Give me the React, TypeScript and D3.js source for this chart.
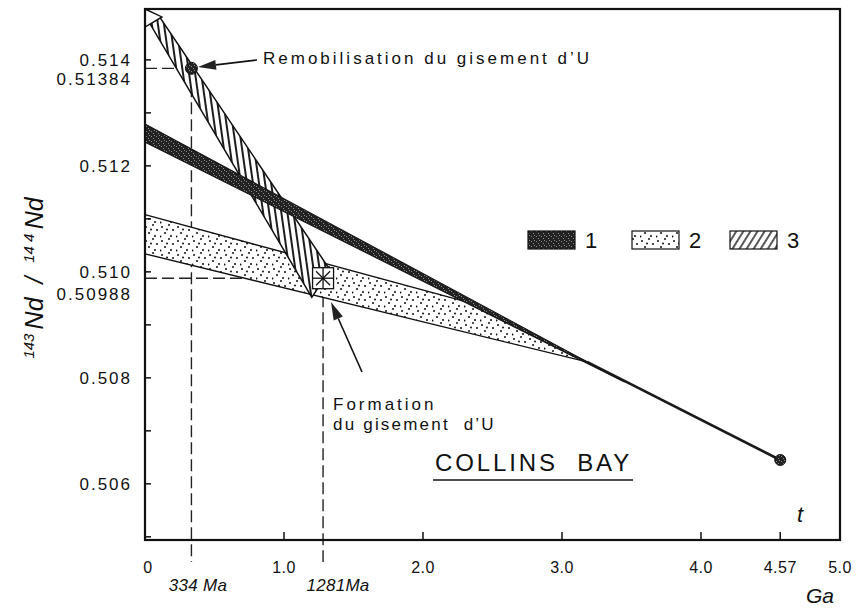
import React, { useRef, useEffect } from 'react';
import * as d3 from 'd3';

// time axis (Ga) and 143Nd/144Nd values
const xTickValues = [1.0, 2.0, 3.0, 4.0, 4.57];
const xLabelValues = [0, 1.0, 2.0, 3.0, 4.0, 4.57, 5.0];
const xLabelTexts = ['0', '1.0', '2.0', '3.0', '4.0', '4.57', '5.0'];
const yTickValues = [0.505, 0.506, 0.507, 0.508, 0.509, 0.51, 0.511, 0.512, 0.513, 0.514];
const yLabelValues = [0.514, 0.512, 0.51, 0.508, 0.506];
const yLabelTexts = ['0.514', '0.512', '0.510', '0.508', '0.506'];

// bands: [t (Ga), 143Nd/144Nd]
const band1: [number, number][] = [[0, 0.51279], [3.45, 0.50792], [0, 0.51245]];
const band2: [number, number][] = [[0, 0.51108], [2.32, 0.50943], [3.18, 0.5083], [0, 0.51034]];
const band3: [number, number][] = [[0.036, 0.51468], [0.108, 0.5148], [1.33, 0.51004], [1.2, 0.50952]];
const band3Head: [number, number][] = [[0, 0.51496], [0.122, 0.51481], [0, 0.51462]];
const churLine: [number, number][] = [[3.18, 0.5083], [4.57, 0.50645]];

const remob = { t: 0.334, r: 0.51384, label: '0.51384', age: '334 Ma' };
const formation = { t: 1.281, r: 0.50988, label: '0.50988', age: '1281Ma' };
const chur = { t: 4.57, r: 0.50645 };

const legendItems = ['1', '2', '3'];

const W = 865;
const H = 610;
const FONT = '"Liberation Sans", Arial, Helvetica, sans-serif';

const CollinsBay: React.FC = () => {
  const svgRef = useRef<SVGSVGElement | null>(null);

  useEffect(() => {
    if (!svgRef.current) return;
    const svg = d3.select(svgRef.current);
    svg.selectAll('*').remove();

    const left = 145, right = 840, top = 9, bottom = 540;
    const x = d3.scaleLinear().domain([0, 5]).range([left, right]);
    const y = d3.scaleLinear().domain([0.50494, 0.51496]).range([bottom, top]);

    const defs = svg.append('defs');

    // dark stipple
    const pDark = defs.append('pattern').attr('id', 'dark').attr('patternUnits', 'userSpaceOnUse')
      .attr('width', 5).attr('height', 5);
    pDark.append('rect').attr('width', 5).attr('height', 5).attr('fill', '#222');
    [[1, 1], [3, 3], [4, 0]].forEach(([a, b]) =>
      pDark.append('rect').attr('x', a).attr('y', b).attr('width', 1).attr('height', 1).attr('fill', '#8c8c8c'));

    // dots
    const pDots = defs.append('pattern').attr('id', 'dots').attr('patternUnits', 'userSpaceOnUse')
      .attr('width', 16).attr('height', 14);
    pDots.append('rect').attr('width', 16).attr('height', 14).attr('fill', '#fff');
    [[2, 3], [9, 1], [13, 6], [5, 9], [11, 12], [0.5, 12.5], [7, 5.5]].forEach(([a, b]) =>
      pDots.append('circle').attr('cx', a).attr('cy', b).attr('r', 1).attr('fill', '#111'));

    // hatch for the band (\) and the legend (/)
    const hatch = (id: string, angle: number, step: number, sw: number) => {
      const p = defs.append('pattern').attr('id', id).attr('patternUnits', 'userSpaceOnUse')
        .attr('width', step).attr('height', 10).attr('patternTransform', `rotate(${angle})`);
      p.append('rect').attr('width', step).attr('height', 10).attr('fill', '#fff');
      p.append('line').attr('x1', step / 2).attr('x2', step / 2).attr('y1', 0).attr('y2', 10)
        .attr('stroke', '#111').attr('stroke-width', sw);
    };
    hatch('hatchBand', -8, 6, 1.9);
    hatch('hatchLeg', 32, 6, 1.4);

    const line = d3.line<[number, number]>().x(d => x(d[0])).y(d => y(d[1]));
    const poly = (pts: [number, number][]) => line(pts)! + 'Z';

    // dashed guides
    const dash = (x1: number, y1: number, x2: number, y2: number) =>
      svg.append('line').attr('x1', x1).attr('y1', y1).attr('x2', x2).attr('y2', y2)
        .attr('stroke', '#222').attr('stroke-width', 1.4).attr('stroke-dasharray', '12,5');
    [remob, formation].forEach(p => {
      dash(left, y(p.r), x(p.t), y(p.r));
      dash(x(p.t), y(p.r), x(p.t), 562);
    });

    // band 2 (dotted)
    svg.append('path').attr('d', poly(band2)).attr('fill', 'url(#dots)')
      .attr('stroke', '#111').attr('stroke-width', 1.4).attr('stroke-linejoin', 'round');

    // band 3 (hatched) + open arrow head
    svg.append('path').attr('d', poly(band3)).attr('fill', 'url(#hatchBand)')
      .attr('stroke', '#111').attr('stroke-width', 1.5);
    svg.append('path').attr('d', poly(band3Head)).attr('fill', '#fff')
      .attr('stroke', '#111').attr('stroke-width', 1.4);

    // band 1 (dark)
    svg.append('path').attr('d', poly(band1)).attr('fill', 'url(#dark)')
      .attr('stroke', '#161616').attr('stroke-width', 1.2);

    // chondritic line to 4.57 Ga
    svg.append('path').attr('d', line(churLine)!).attr('fill', 'none')
      .attr('stroke', '#1a1a1a').attr('stroke-width', 2.6);

    // points
    svg.append('circle').attr('cx', x(remob.t)).attr('cy', y(remob.r)).attr('r', 6)
      .attr('fill', 'url(#dark)').attr('stroke', '#111').attr('stroke-width', 1);
    svg.append('circle').attr('cx', x(chur.t)).attr('cy', y(chur.r)).attr('r', 5.5)
      .attr('fill', 'url(#dark)').attr('stroke', '#111').attr('stroke-width', 1);

    // box with asterisk at formation age
    const bx = x(formation.t), by = y(formation.r), bs = 10.5;
    const box = svg.append('g').attr('stroke', '#111').attr('stroke-width', 1.3);
    box.append('rect').attr('x', bx - bs).attr('y', by - bs).attr('width', bs * 2).attr('height', bs * 2)
      .attr('fill', '#fff');
    [[0, -bs, 0, bs], [-bs, 0, bs, 0], [-7, -7, 7, 7], [-7, 7, 7, -7]].forEach(([a, b, c, d]) =>
      box.append('line').attr('x1', bx + a).attr('y1', by + b).attr('x2', bx + c).attr('y2', by + d));

    // frame
    svg.append('rect').attr('x', left).attr('y', top).attr('width', right - left).attr('height', bottom - top)
      .attr('fill', 'none').attr('stroke', '#111').attr('stroke-width', 2.2);

    // ticks
    yTickValues.forEach(v => svg.append('line').attr('x1', left).attr('x2', left + 6)
      .attr('y1', y(v)).attr('y2', y(v)).attr('stroke', '#111').attr('stroke-width', 1.5));
    xTickValues.forEach(v => svg.append('line').attr('x1', x(v)).attr('x2', x(v))
      .attr('y1', bottom).attr('y2', bottom - 8).attr('stroke', '#111').attr('stroke-width', 1.5));

    const txt = (s: string, tx: number, ty: number, size: number, anchor = 'start', italic = false, ls = 0) =>
      svg.append('text').attr('x', tx).attr('y', ty).attr('font-family', FONT).attr('font-size', size)
        .attr('text-anchor', anchor).attr('font-style', italic ? 'italic' : 'normal')
        .attr('letter-spacing', ls).attr('fill', '#111').style('white-space', 'pre').text(s);

    // y labels
    yLabelValues.forEach((v, i) => txt(yLabelTexts[i], 132, y(v) + 6, 17, 'end', false, 2));
    txt(remob.label, 132, y(0.514) + 25, 17, 'end', false, 2);
    txt(formation.label, 132, y(0.51) + 28, 17, 'end', false, 2);

    // x labels
    xLabelValues.forEach((v, i) => txt(xLabelTexts[i], x(v) + (v === 0 ? 3 : 0), 573, 16, 'middle', false, 0.5));
    txt(remob.age, 198, 591, 17, 'middle', true, 0.3);
    txt(formation.age, 338, 591, 17, 'middle', true, 0.3);
    txt('Ga', 820, 603, 21, 'middle', true);
    txt('t', 800, 522, 22, 'middle', true);

    // y title
    const yt = svg.append('text').attr('transform', 'translate(43,278) rotate(-90)')
      .attr('text-anchor', 'middle').attr('font-family', FONT).attr('font-style', 'italic').attr('fill', '#111')
      .style('white-space', 'pre');
    yt.append('tspan').attr('font-size', 15).attr('dy', -9).text('143 ');
    yt.append('tspan').attr('font-size', 25).attr('dy', 9).text('Nd  /  ');
    yt.append('tspan').attr('font-size', 15).attr('dy', -9).text('14 4 ');
    yt.append('tspan').attr('font-size', 25).attr('dy', 9).text('Nd');

    // annotations
    const arrow = (x1: number, y1: number, x2: number, y2: number) => {
      const ang = Math.atan2(y2 - y1, x2 - x1);
      const hl = 18, hw = 5;
      const bxp = x2 - hl * Math.cos(ang), byp = y2 - hl * Math.sin(ang);
      svg.append('line').attr('x1', x1).attr('y1', y1).attr('x2', bxp).attr('y2', byp)
        .attr('stroke', '#111').attr('stroke-width', 1.6);
      svg.append('path').attr('d', `M${x2},${y2}L${bxp + hw * Math.sin(ang)},${byp - hw * Math.cos(ang)}L${bxp - hw * Math.sin(ang)},${byp + hw * Math.cos(ang)}Z`)
        .attr('fill', '#222');
    };
    arrow(257, 60, 198, 67);
    txt('Remobilisation du gisement d\u2019U', 263, 64, 17, 'start', false, 3);
    arrow(362, 372, 331, 302);
    txt('Formation', 333, 410, 17, 'start', false, 3);
    txt('du gisement  d\u2019U', 333, 430, 17, 'start', false, 2.2);

    // COLLINS BAY
    txt('COLLINS  BAY', 435, 471, 24, 'start', false, 2.9);
    svg.append('line').attr('x1', 433).attr('x2', 633).attr('y1', 480).attr('y2', 480)
      .attr('stroke', '#111').attr('stroke-width', 1.6);

    // legend
    const fills = ['url(#dark)', 'url(#dots)', 'url(#hatchLeg)'];
    const legX = [528, 632, 730];
    legendItems.forEach((k, i) => {
      const lx = legX[i];
      svg.append('rect').attr('x', lx).attr('y', 231).attr('width', 47).attr('height', 18)
        .attr('fill', fills[i]).attr('stroke', '#111').attr('stroke-width', 1.2);
      txt(k, lx + 63, 248, 22, 'middle');
    });
  }, []);

  return <svg ref={svgRef} width={W} height={H} style={{ position: 'absolute', left: 0, top: 0, background: '#fff' }} />;
};

export default function App() {
  return <CollinsBay />;
}
